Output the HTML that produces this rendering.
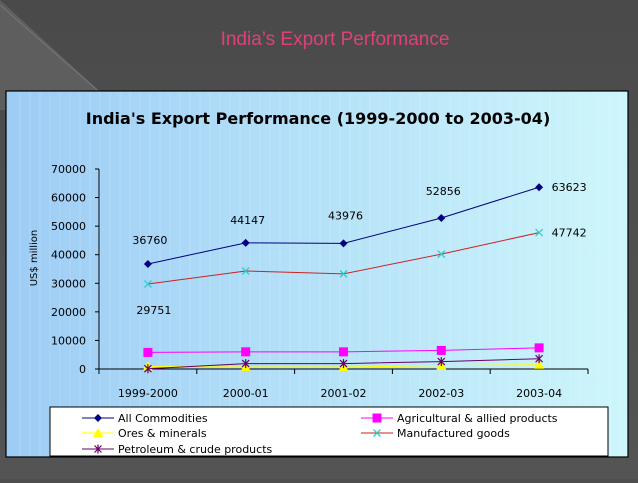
<!DOCTYPE html>
<html><head><meta charset="utf-8"><style>
body{margin:0;width:638px;height:479px;overflow:hidden;background:#4e4e4e;font-family:"DejaVu Sans","Liberation Sans",sans-serif}
</style></head><body>
<svg width="638" height="479" xmlns="http://www.w3.org/2000/svg">
<defs>
<linearGradient id="bg" x1="0" x2="1" y1="0" y2="0"><stop offset="0" stop-color="#9dccf5"/><stop offset="1" stop-color="#cdf6fb"/></linearGradient>
<linearGradient id="sl" x1="0" x2="0" y1="0" y2="1"><stop offset="0" stop-color="#4a4a4a"/><stop offset="1" stop-color="#545454"/></linearGradient>
</defs>
<rect width="638" height="479" fill="url(#sl)"/>
<polygon points="0,0 0,110 120,110" fill="#5e5e5e"/>
<line x1="0" y1="5" x2="120" y2="110" stroke="#777" stroke-width="1"/>
<text x="335" y="45" text-anchor="middle" font-family="Liberation Sans, sans-serif" font-size="19" fill="#e0407a">India’s Export Performance</text>
<rect x="6" y="91" width="622" height="366" fill="url(#bg)" stroke="#000" stroke-width="1.2"/>
<g id="stripes"></g>
<text x="318" y="124" text-anchor="middle" font-size="16" font-weight="bold" fill="#000">India's Export Performance (1999-2000 to 2003-04)</text>
<text transform="translate(37,258) rotate(-90)" text-anchor="middle" font-size="10" fill="#000">US$ million</text>
<g id="axes"></g>
<g id="series"></g>
<rect x="50" y="407" width="558" height="49" fill="#fff" stroke="#000" stroke-width="1"/>
<g id="legend"></g>
</svg>
<script>
const categories=["1999-2000","2000-01","2001-02","2002-03","2003-04"];
const yTicks=[0,10000,20000,30000,40000,50000,60000,70000];
const allCommodities=[36760,44147,43976,52856,63623];
const agricultural=[5800,6000,6000,6500,7400];
const ores=[900,700,700,1200,1500];
const manufactured=[29751,34300,33300,40200,47742];
const petroleum=[100,1900,1900,2600,3600];
const seriesNames=["All Commodities","Agricultural & allied products","Ores & minerals","Manufactured goods","Petroleum & crude products"];

const NS="http://www.w3.org/2000/svg";
const x0=99,x1=588,y0=369,yMax=70000,yTop=169;
const bw=(x1-x0)/categories.length;
function X(i){return x0+bw*(i+0.5);}
function Y(v){return y0-(v/yMax)*(y0-yTop);}
function mk(tag,attrs,parent){const e=document.createElementNS(NS,tag);for(const k in attrs)e.setAttribute(k,attrs[k]);parent.appendChild(e);return e;}
const st=document.getElementById('stripes');
for(let x=20;x<626;x+=10){mk('line',{x1:x,y1:92,x2:x,y2:456,stroke:'#ffffff',"stroke-opacity":0.18,"stroke-width":1},st);}
const ax=document.getElementById('axes');
const ya=mk('line',{x1:x0,y1:yTop,x2:x0,y2:y0,stroke:'#000'},ax);


const xa=mk('line',{x1:x0,y1:y0,x2:x1,y2:y0,stroke:'#000'},ax);


yTicks.forEach(v=>{
 mk('line',{x1:x0-4,y1:Y(v),x2:x0,y2:Y(v),stroke:'#000'},ax);
 const t=mk('text',{x:x0-13,y:Y(v)+4,"text-anchor":"end","font-size":"11"},ax);t.textContent=v;
 
 
});
for(let i=0;i<=categories.length;i++)mk('line',{x1:x0+bw*i,y1:y0,x2:x0+bw*i,y2:y0+5,stroke:'#000'},ax);
categories.forEach((c,i)=>{const t=mk('text',{x:X(i),y:397,"text-anchor":"middle","font-size":"11"},ax);t.textContent=c;
 
 });

function marker(g,type,cx,cy,col){
 if(type==='diamond')mk('polygon',{points:`${cx},${cy-4} ${cx+4},${cy} ${cx},${cy+4} ${cx-4},${cy}`,fill:col},g);
 else if(type==='square')mk('rect',{x:cx-4.5,y:cy-4.5,width:9,height:9,fill:col},g);
 else if(type==='triangle')mk('polygon',{points:`${cx},${cy-5} ${cx+5},${cy+4} ${cx-5},${cy+4}`,fill:col},g);
 else if(type==='x'){mk('path',{d:`M${cx-3.5},${cy-3.5}L${cx+3.5},${cy+3.5}M${cx+3.5},${cy-3.5}L${cx-3.5},${cy+3.5}`,stroke:col,"stroke-width":1.3},g);}
 else if(type==='star'){mk('path',{d:`M${cx-3.5},${cy-3.5}L${cx+3.5},${cy+3.5}M${cx+3.5},${cy-3.5}L${cx-3.5},${cy+3.5}M${cx},${cy-4.5}L${cx},${cy+4.5}`,stroke:col,"stroke-width":1.2},g);}
}
const defs=[
 {data:allCommodities,line:'#000080',mcol:'#000080',m:'diamond',name:'series-all-commodities'},
 {data:agricultural,line:'#ff00ff',mcol:'#ff00ff',m:'square',name:'series-agricultural'},
 {data:ores,line:'#ffff00',mcol:'#ffff00',m:'triangle',name:'series-ores'},
 {data:manufactured,line:'#cc2222',mcol:'#33cccc',m:'x',name:'series-manufactured'},
 {data:petroleum,line:'#660066',mcol:'#660066',m:'star',name:'series-petroleum'}];
const sg=document.getElementById('series');
defs.forEach(d=>{
 const g=mk('g',{},sg);
 
 
 mk('polyline',{points:d.data.map((v,i)=>X(i)+','+Y(v)).join(' '),fill:'none',stroke:d.line,"stroke-width":1},g);
 d.data.forEach((v,i)=>marker(g,d.m,X(i),Y(v),d.mcol));
});
const labOff=[[2,-20],[2,-19],[2,-24],[2,-23],[30,4]];
allCommodities.forEach((v,i)=>{const t=mk('text',{x:X(i)+labOff[i][0],y:Y(v)+labOff[i][1],"text-anchor":"middle","font-size":"11"},sg);t.textContent=v;
 
 });
[[0,6,30],[4,30,4]].forEach(([i,dx,dy])=>{const t=mk('text',{x:X(i)+dx,y:Y(manufactured[i])+dy,"text-anchor":"middle","font-size":"11"},sg);t.textContent=manufactured[i];
 
 });
const lg=document.getElementById('legend');
const pos=[[82,418],[361,418],[82,433],[361,433],[82,449]];
defs.forEach((d,i)=>{
 const [lx,ly]=pos[i];
 const g=mk('g',{},lg);
 
 
 mk('line',{x1:lx,y1:ly,x2:lx+32,y2:ly,stroke:d.line,"stroke-width":1},g);
 marker(g,d.m,lx+16,ly,d.mcol);
 const t=mk('text',{x:lx+36,y:ly+4,"font-size":"11"},g);t.textContent=seriesNames[i];
});
</script>
</body></html>
